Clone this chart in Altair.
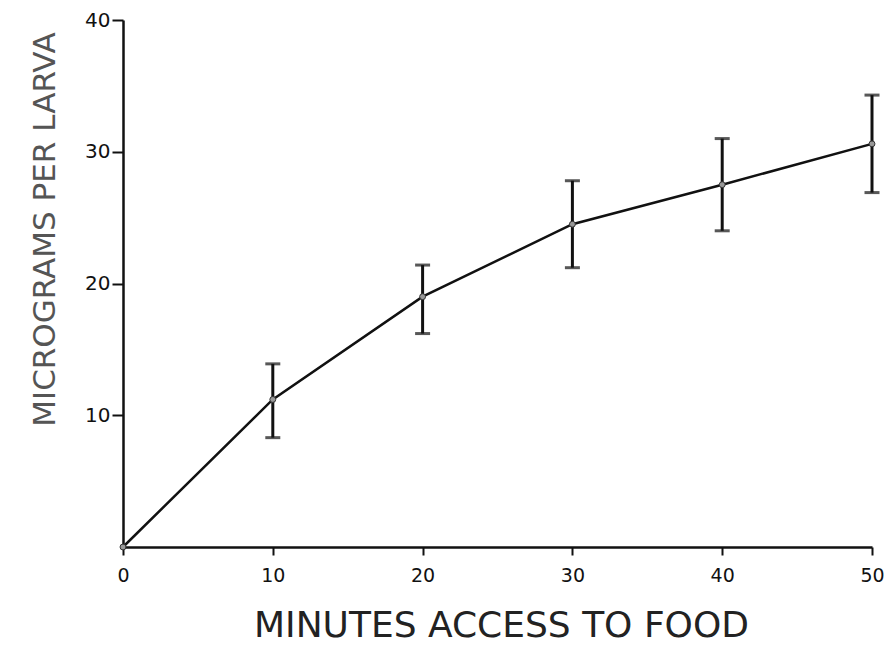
import altair as alt
import pandas as pd

minutes = [0, 10, 20, 30, 40, 50]
micrograms = [0.0, 11.2, 19.0, 24.5, 27.5, 30.6]
err_upper = [None, 13.9, 21.4, 27.8, 31.0, 34.3]
err_lower = [None, 8.3, 16.2, 21.2, 24.0, 26.9]

df = pd.DataFrame({"x": minutes, "y": micrograms, "hi": err_upper, "lo": err_lower})
err_df = df.dropna()

xs = alt.Scale(domain=[0, 50], nice=False)
ys = alt.Scale(domain=[0, 40], nice=False)

x_axis = alt.Axis(values=[0, 10, 20, 30, 40, 50], grid=False, tickSize=8, tickWidth=2,
                  domainWidth=2.5, domainColor="#111", tickColor="#111", labelFlush=False,
                  labelFontSize=19, labelColor="#111", labelPadding=11, labelFont="DejaVu Sans",
                  title="MINUTES ACCESS TO FOOD", titleFontSize=36, titleFont="DejaVu Sans",
                  titleFontWeight="normal", titleColor="#222",
                  titleBaseline="alphabetic", titleY=89, titleX=378)
y_axis = alt.Axis(values=[10, 20, 30, 40], grid=False, tickSize=11, tickWidth=2,
                  domainWidth=2.5, domainColor="#111", tickColor="#111", labelFlush=False,
                  labelFontSize=20, labelColor="#111", labelPadding=2, labelFont="DejaVu Sans",
                  title="MICROGRAMS PER LARVA", titleFontSize=31, titleFont="DejaVu Sans",
                  titleFontWeight="normal", titleColor="#555",
                  titleBaseline="alphabetic", titleX=-69, titleY=209)

line = alt.Chart(df).mark_line(color="#111", strokeWidth=2.5).encode(
    x=alt.X("x:Q", scale=xs, axis=x_axis),
    y=alt.Y("y:Q", scale=ys, axis=y_axis),
)
pts = alt.Chart(df).mark_point(filled=True, color="#999", size=35, opacity=1,
                               stroke="#333", strokeWidth=1).encode(
    x=alt.X("x:Q", scale=xs), y=alt.Y("y:Q", scale=ys))
rules = alt.Chart(err_df).mark_rule(color="#111", strokeWidth=3).encode(
    x=alt.X("x:Q", scale=xs), y=alt.Y("lo:Q", scale=ys), y2="hi:Q")
cap_hi = alt.Chart(err_df).mark_tick(color="#111", thickness=3, size=15, orient="horizontal").encode(
    x=alt.X("x:Q", scale=xs), y=alt.Y("hi:Q", scale=ys))
cap_lo = alt.Chart(err_df).mark_tick(color="#111", thickness=3, size=15, orient="horizontal").encode(
    x=alt.X("x:Q", scale=xs), y=alt.Y("lo:Q", scale=ys))

chart = alt.layer(line, rules, cap_hi, cap_lo, pts).properties(
    width=749, height=527,
    background="white",
    autosize=alt.AutoSizeParams(type="none"),
    padding={"left": 115, "top": 12, "right": 12, "bottom": 98},
).configure_view(stroke="transparent", strokeWidth=0)

chart.save("out.html", embed_options={"renderer": "svg", "actions": False})
